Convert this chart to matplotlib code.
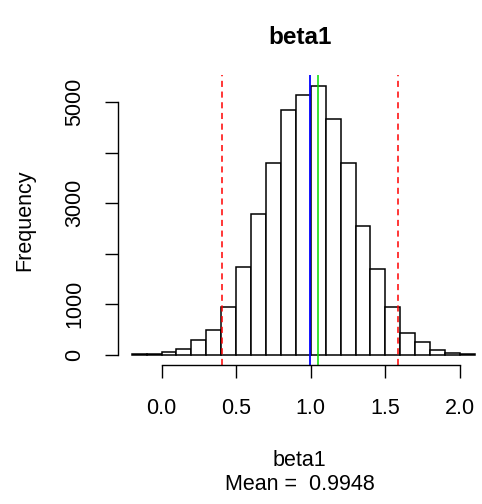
import numpy as np
import matplotlib
matplotlib.use('Agg')
import matplotlib.pyplot as plt

plt.rcParams['font.family'] = ['Liberation Sans', 'DejaVu Sans']

# histogram of beta1 draws, bins of width 0.1 from -0.2 to 2.1
bin_edges = np.round(np.arange(-0.2, 2.1001, 0.1), 2)
counts = [12, 22, 45, 110, 300, 485, 945, 1737, 2787, 3798, 4848, 5139,
          5330, 4670, 3791, 2550, 1691, 950, 435, 245, 85, 40, 15]
mean_val = 0.9948
green_val = 1.046
ci_low, ci_high = 0.405, 1.582
xticks = [0.0, 0.5, 1.0, 1.5, 2.0]
yticks = [0, 1000, 2000, 3000, 4000, 5000]
ytick_labels = ['0', '1000', '', '3000', '', '5000']

fig = plt.figure(figsize=(4.82, 5.04), dpi=100)
ax = fig.add_axes([0.2448, 0.2750, 0.7689, 0.5763])

ax.bar(bin_edges[:-1], counts, width=0.1, align='edge',
       facecolor='white', edgecolor='black', linewidth=1.1)
ax.axvline(mean_val, color='blue', lw=1.3)
ax.axvline(green_val, color='#00dd00', lw=1.1)
ax.axvline(ci_low, color='red', lw=1.1, dashes=(4, 3))
ax.axvline(ci_high, color='red', lw=1.1, dashes=(4, 3))

# R style axes with 4% padding
xr = bin_edges[-1] - bin_edges[0]
ax.set_xlim(bin_edges[0] - 0.04 * xr, bin_edges[-1] + 0.04 * xr)
ym = max(counts)
ax.set_ylim(-0.04 * ym, ym * 1.04)

for s in ['top', 'right']:
    ax.spines[s].set_visible(False)
ax.spines['bottom'].set_bounds(xticks[0], xticks[-1])
ax.spines['left'].set_bounds(yticks[0], yticks[-1])
for s in ['bottom', 'left']:
    ax.spines[s].set_linewidth(1.0)

ax.set_xticks(xticks)
ax.set_xticklabels([f'{v:.1f}' for v in xticks])
ax.set_yticks(yticks)
ax.set_yticklabels(ytick_labels, rotation=90, va='center')
ax.tick_params(length=9.7, width=1.0, labelsize=15.5)
ax.tick_params(axis='x', pad=14)
ax.tick_params(axis='y', pad=14)

fig.text(0.622, 1 - 37 / 504, 'beta1', ha='center', va='center',
         fontsize=17.5, fontweight='bold')
fig.text(0.622, 1 - 461 / 504, 'beta1', ha='center', va='center', fontsize=15.5)
fig.text(0.622, 1 - 485 / 504, 'Mean =  0.9948', ha='center', va='center',
         fontsize=15.5)
fig.text(25 / 482, 1 - 220 / 504, 'Frequency', ha='center', va='center',
         rotation=90, fontsize=15.5)

fig.savefig('out.png', dpi=100)
